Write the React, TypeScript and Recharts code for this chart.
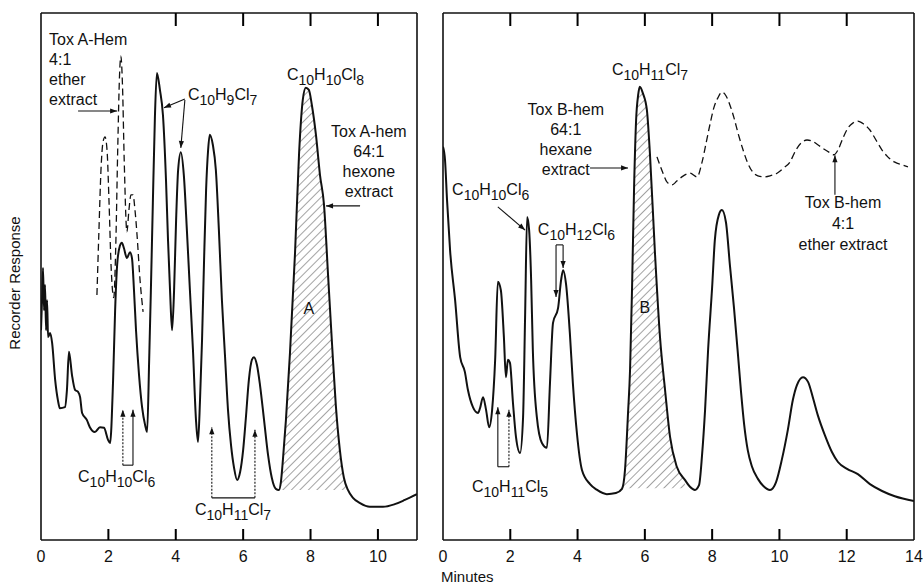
import React from 'react';
import { ComposedChart, Line, Area, XAxis, YAxis, ReferenceLine, ReferenceDot } from 'recharts';

type Pt = [number, number];

// minutes vs recorder response (0..100, 100 = top of the frame)
const toxASolid: Pt[] = [
  [0, 39.8], [0.03, 45.5], [0.06, 51.6], [0.09, 43.6], [0.12, 48.4], [0.15, 39.8], [0.18, 45.5], [0.21, 38.5],
  [0.27, 39.3], [0.33, 37.4], [0.42, 30.4], [0.5, 26.6], [0.56, 25.0], [0.71, 25.2], [0.77, 28.5], [0.83, 35.7],
  [0.92, 31.3], [1.01, 28.5], [1.1, 28.1], [1.16, 27.1], [1.22, 24.1], [1.36, 22.8], [1.45, 21.4], [1.6, 20.5],
  [1.75, 21.4], [1.87, 21.3], [1.99, 19.0], [2.05, 18.4], [2.14, 30.4], [2.2, 43.6], [2.26, 52.2], [2.34, 55.8],
  [2.4, 56.4], [2.46, 55.4], [2.55, 53.5], [2.64, 54.6], [2.7, 53.5], [2.76, 47.4], [2.82, 39.8], [2.91, 31.3],
  [3.0, 25.2], [3.09, 21.8], [3.15, 20.5], [3.21, 34.0], [3.26, 47.0], [3.32, 64.0], [3.38, 80.0], [3.44, 88.6],
  [3.53, 85.4], [3.62, 80.6], [3.71, 68.3], [3.77, 56.9], [3.83, 47.4], [3.89, 39.8], [3.95, 47.4], [4.01, 60.7],
  [4.07, 70.2], [4.15, 73.6], [4.24, 69.2], [4.33, 58.8], [4.42, 47.4], [4.51, 36.1], [4.6, 22.8], [4.66, 18.6],
  [4.72, 26.6], [4.78, 38.0], [4.84, 53.1], [4.9, 66.4], [4.96, 74.0], [5.01, 76.9], [5.1, 75.0], [5.19, 70.2],
  [5.28, 58.8], [5.37, 45.5], [5.46, 35.1], [5.55, 24.7], [5.64, 18.0], [5.73, 13.7], [5.82, 11.4], [5.91, 12.9],
  [6.0, 17.1], [6.08, 23.1], [6.17, 30.4], [6.26, 34.2], [6.32, 34.7], [6.41, 33.2], [6.5, 29.4], [6.62, 22.8],
  [6.74, 16.1], [6.85, 11.8], [6.97, 9.7], [7.06, 9.5], [7.12, 11.0], [7.18, 15.2], [7.27, 22.8], [7.39, 35.5],
  [7.54, 54.5], [7.66, 73.4], [7.77, 83.5], [7.86, 85.8], [7.95, 85.4], [8.04, 82.5], [8.16, 76.9], [8.28, 69.3],
  [8.4, 63.6], [8.52, 50.3], [8.64, 37.0], [8.75, 25.6], [8.87, 17.1], [8.99, 11.8], [9.11, 9.5], [9.26, 8.0],
  [9.47, 7.0], [9.76, 6.3], [10.15, 6.3], [10.5, 6.8], [10.8, 7.6], [11.16, 8.7],
];

const toxAEther: Pt[] = [
  [1.66, 46.5], [1.72, 58.8], [1.78, 70.2], [1.84, 75.5], [1.9, 76.5], [1.96, 74.0], [2.02, 64.0], [2.08, 52.0],
  [2.16, 46.0], [2.22, 56.0], [2.28, 75.0], [2.33, 88.0], [2.37, 91.8], [2.42, 86.0], [2.47, 72.0], [2.55, 58.5],
  [2.61, 62.6], [2.67, 65.5], [2.73, 65.5], [2.79, 62.6], [2.85, 57.9], [2.94, 49.3], [3.03, 43.3],
];

const toxAHatch = { from: 7.06, to: 9.11, base: 9.5 };

const toxBSolid: Pt[] = [
  [0, 74.6], [0.06, 72.1], [0.12, 64.5], [0.21, 55.0], [0.36, 45.5], [0.51, 34.7], [0.65, 31.9], [0.74, 28.5],
  [0.89, 25.2], [1.04, 24.1], [1.1, 25.0], [1.19, 27.1], [1.28, 24.7], [1.37, 21.4], [1.46, 24.7], [1.55, 34.2],
  [1.63, 49.0], [1.72, 47.4], [1.81, 38.5], [1.87, 30.9], [1.93, 34.2], [1.99, 33.6], [2.08, 26.0], [2.17, 19.5],
  [2.29, 16.5], [2.38, 23.3], [2.44, 42.3], [2.5, 61.3], [2.56, 58.8], [2.62, 49.3], [2.67, 36.1], [2.79, 23.3],
  [2.94, 18.4], [3.09, 17.5], [3.18, 29.8], [3.27, 41.2], [3.42, 44.0], [3.51, 49.3], [3.57, 51.2], [3.66, 48.4],
  [3.77, 39.3], [3.86, 29.8], [3.98, 20.3], [4.13, 13.3], [4.37, 10.6], [4.58, 9.5], [4.87, 8.7], [5.14, 8.9],
  [5.32, 9.7], [5.41, 13.3], [5.5, 24.1], [5.56, 32.3], [5.62, 48.0], [5.68, 67.0], [5.74, 79.7], [5.8, 84.4],
  [5.85, 86.0], [5.94, 84.8], [6.06, 81.6], [6.15, 73.4], [6.3, 54.5], [6.45, 38.5], [6.6, 28.5], [6.75, 19.5],
  [6.95, 13.9], [7.19, 11.4], [7.34, 10.1], [7.49, 9.5], [7.61, 10.4], [7.7, 16.1], [7.79, 24.7], [7.88, 36.1],
  [8.0, 48.0], [8.08, 56.9], [8.2, 61.7], [8.29, 62.6], [8.41, 60.3], [8.53, 52.0], [8.65, 44.0], [8.77, 35.0],
  [8.86, 28.0], [8.95, 22.0], [9.06, 17.0], [9.18, 14.0], [9.36, 11.6], [9.53, 10.2], [9.72, 9.5], [9.9, 11.0],
  [10.07, 15.2], [10.25, 20.9], [10.4, 26.6], [10.52, 29.4], [10.7, 30.9], [10.85, 30.0], [11.0, 26.9],
  [11.14, 23.7], [11.35, 19.9], [11.56, 16.7], [11.74, 14.8], [12.01, 13.5], [12.33, 12.5], [12.69, 10.6],
  [13.05, 9.3], [13.43, 8.3], [14.0, 7.4],
];

const toxBEther: Pt[] = [
  [6.36, 72.7], [6.54, 69.6], [6.66, 67.9], [6.81, 67.4], [6.95, 68.1], [7.1, 68.9], [7.34, 69.6], [7.55, 68.9],
  [7.7, 71.7], [7.82, 75.3], [7.93, 78.7], [8.05, 82.0], [8.17, 83.9], [8.29, 85.0], [8.41, 84.3], [8.53, 82.5],
  [8.65, 80.1], [8.77, 77.2], [8.92, 74.0], [9.06, 71.5], [9.21, 69.8], [9.36, 69.1], [9.54, 68.9], [9.72, 69.1],
  [9.93, 69.6], [10.13, 70.6], [10.31, 71.7], [10.49, 74.0], [10.64, 75.3], [10.82, 75.9], [10.97, 75.7],
  [11.14, 75.0], [11.32, 74.2], [11.47, 73.6], [11.62, 73.1], [11.74, 74.0], [11.89, 76.3], [12.04, 78.2],
  [12.18, 79.1], [12.33, 79.5], [12.51, 78.9], [12.69, 77.8], [12.87, 75.9], [13.05, 74.0], [13.22, 72.7],
  [13.43, 71.7], [13.64, 71.2], [13.82, 70.8],
];

const toxBHatch = { from: 5.32, to: 7.2, base: 9.8 };

const toxATicks = [0, 2, 4, 6, 8, 10];
const toxATopTicks = [4, 6, 8, 10];
const toxBTicks = [0, 2, 4, 6, 8, 10, 12, 14];
const toxBTopTicks = [2, 4, 6, 8, 10, 12];

type Note = { t: number; r: number; lines?: string[]; formula?: string; anchor?: 'start' | 'middle'; gap?: number };
type Seg = { from: Pt; to: Pt; head?: boolean; dotted?: boolean };

const toxANotes: Note[] = [
  { t: 0.24, r: 93.9, lines: ['Tox A-Hem', '4:1', 'ether', 'extract'] },
  { t: 4.36, r: 83.5, formula: 'C10H9Cl7' },
  { t: 7.3, r: 87.3, formula: 'C10H10Cl8' },
  { t: 9.73, r: 76.5, lines: ['Tox A-hem', '64:1', 'hexone', 'extract'], anchor: 'middle' },
  { t: 7.95, r: 42.9, lines: ['A'], anchor: 'middle' },
  { t: 1.1, r: 11.0, formula: 'C10H10Cl6' },
  { t: 4.57, r: 4.7, formula: 'C10H11Cl7' },
];

const toxASegs: Seg[] = [
  { from: [1.1, 81.4], to: [2.26, 81.4], head: true },
  { from: [4.27, 83.7], to: [3.65, 82.0], head: true },
  { from: [4.27, 83.5], to: [4.15, 74.4], head: true },
  { from: [9.47, 63.4], to: [8.46, 63.4], head: true },
  { from: [2.43, 14.2], to: [2.43, 24.7], head: true, dotted: true },
  { from: [2.73, 14.2], to: [2.73, 24.7], head: true },
  { from: [2.43, 14.2], to: [2.73, 14.2] },
  { from: [5.07, 8.0], to: [5.07, 21.4], head: true, dotted: true },
  { from: [6.35, 8.0], to: [6.35, 20.9], head: true, dotted: true },
  { from: [5.07, 8.0], to: [6.35, 8.0] },
];

const toxBNotes: Note[] = [
  { t: 5.02, r: 88.2, formula: 'C10H11Cl7' },
  { t: 3.65, r: 80.6, lines: ['Tox B-hem', '64:1', 'hexane', 'extract'], anchor: 'middle' },
  { t: 0.27, r: 65.5, formula: 'C10H10Cl6' },
  { t: 2.82, r: 57.9, formula: 'C10H12Cl6' },
  { t: 11.89, r: 63.0, lines: ['Tox B-hem', '4:1', 'ether extract'], anchor: 'middle', gap: 21 },
  { t: 6.0, r: 43.1, lines: ['B'], anchor: 'middle' },
  { t: 0.86, r: 9.1, formula: 'C10H11Cl5' },
];

const toxBSegs: Seg[] = [
  { from: [4.37, 70.6], to: [5.5, 70.6], head: true },
  { from: [1.63, 63.2], to: [2.44, 58.8], head: true },
  { from: [3.36, 56.0], to: [3.57, 56.0] },
  { from: [3.36, 56.0], to: [3.36, 46.1], head: true },
  { from: [3.57, 56.0], to: [3.57, 51.6], head: true },
  { from: [11.65, 65.5], to: [11.65, 73.0], head: true },
  { from: [1.63, 13.9], to: [1.63, 25.2], head: true },
  { from: [1.96, 13.9], to: [1.96, 24.7], head: true, dotted: true },
  { from: [1.63, 13.9], to: [1.96, 13.9] },
];

const INK = '#111';
const FONT = '"Liberation Sans", Arial, sans-serif';

// frame geometry shared by the charts and the tick overlay
const FRAME_TOP = 13;
const FRAME_BOTTOM = 540;
const PANEL_A = { x0: 41, x1: 417, maxT: 11.16 };
const PANEL_B = { x0: 443, x1: 914, maxT: 14 };

function buildRows(solid: Pt[], ether: Pt[], hatch: { from: number; to: number; base: number }) {
  const map = new Map<number, any>();
  const row = (t: number) => {
    if (!map.has(t)) map.set(t, { t });
    return map.get(t);
  };
  solid.forEach(([t, r]) => {
    const o = row(t);
    o.solid = r;
    if (t >= hatch.from && t <= hatch.to) o.hatch = [hatch.base, Math.max(r, hatch.base)];
  });
  ether.forEach(([t, r]) => {
    row(t).ether = r;
  });
  return [...map.values()].sort((a, b) => a.t - b.t);
}

const arrowShape = (seg: Seg) => (p: any) => {
  const { x1, y1, x2, y2 } = p;
  const a = Math.atan2(y2 - y1, x2 - x1);
  const L = 7;
  const W = 2.6;
  const bx = x2 - L * Math.cos(a);
  const by = y2 - L * Math.sin(a);
  const pts = `${x2},${y2} ${bx - W * Math.sin(a)},${by + W * Math.cos(a)} ${bx + W * Math.sin(a)},${by - W * Math.cos(a)}`;
  return (
    <g>
      <line x1={x1} y1={y1} x2={x2} y2={y2} stroke={INK} strokeWidth={1.1} strokeDasharray={seg.dotted ? '2 1.5' : undefined} />
      {seg.head && <polygon points={pts} fill={INK} />}
    </g>
  );
};

const noteShape = (n: Note) => (p: any) => {
  const { cx, cy } = p;
  if (n.formula) {
    const parts = n.formula.match(/[A-Za-z]+|\d+/g) ?? [];
    let down = false;
    return (
      <text x={cx} y={cy} fill={INK} fontSize={16} fontFamily={FONT} textAnchor="start">
        {parts.map((s, i) => {
          const sub = /\d/.test(s);
          const dy = sub ? (down ? 0 : 5) : down ? -5 : 0;
          down = sub;
          return (
            <tspan key={i} dy={dy} fontSize={sub ? 14 : 16}>
              {s}
            </tspan>
          );
        })}
      </text>
    );
  }
  const gap = n.gap ?? 20;
  return (
    <text x={cx} y={cy} fill={INK} fontSize={16} fontFamily={FONT} textAnchor={n.anchor ?? 'start'}>
      {(n.lines ?? []).map((l, i) => (
        <tspan key={i} x={cx} dy={i === 0 ? 0 : gap}>
          {l}
        </tspan>
      ))}
    </text>
  );
};

const bottomLabel = (p: any) => (
  <text x={p.x} y={p.y + 22} textAnchor="middle" fontSize={16} fontFamily={FONT} fill={INK}>
    {p.payload.value}
  </text>
);

interface PanelProps {
  width: number;
  margin: { top: number; right: number; bottom: number; left: number };
  maxT: number;
  ticks: number[];
  solid: Pt[];
  ether: Pt[];
  hatch: { from: number; to: number; base: number };
  notes: Note[];
  segs: Seg[];
  hatchId: string;
}

function Panel({ width, margin, maxT, ticks, solid, ether, hatch, notes, segs, hatchId }: PanelProps) {
  const rows = buildRows(solid, ether, hatch);
  const frame = { stroke: INK, strokeWidth: 1.6 };
  return (
    <ComposedChart width={width} height={587} data={rows} margin={margin}>
      <defs>
        <pattern id={hatchId} patternUnits="userSpaceOnUse" width={6} height={6} patternTransform="rotate(45)">
          <line x1={0} y1={0} x2={0} y2={6} stroke="#333" strokeWidth={0.9} />
        </pattern>
      </defs>
      <XAxis
        dataKey="t"
        type="number"
        domain={[0, maxT]}
        ticks={ticks}
        interval={0}
        height={47}
        tickSize={0}
        tickMargin={0}
        tickLine={false}
        axisLine={frame}
        tick={bottomLabel}
        allowDataOverflow
      />
      <XAxis
        xAxisId="top"
        orientation="top"
        dataKey="t"
        type="number"
        domain={[0, maxT]}
        height={1}
        tick={false}
        tickLine={false}
        axisLine={frame}
        allowDataOverflow
      />
      <YAxis domain={[0, 100]} width={1} tick={false} tickLine={false} axisLine={frame} allowDataOverflow />
      <YAxis
        yAxisId="right"
        orientation="right"
        domain={[0, 100]}
        width={1}
        tick={false}
        tickLine={false}
        axisLine={frame}
        allowDataOverflow
      />
      <Area
        dataKey="hatch"
        type="monotone"
        stroke="none"
        fill={`url(#${hatchId})`}
        fillOpacity={1}
        connectNulls
        dot={false}
        activeDot={false}
        isAnimationActive={false}
      />
      {/* invisible series so the top x-axis and right y-axis get bound and drawn */}
      <Line
        dataKey="solid"
        xAxisId="top"
        yAxisId="right"
        stroke="none"
        dot={false}
        activeDot={false}
        connectNulls
        legendType="none"
        isAnimationActive={false}
      />
      <Line
        dataKey="ether"
        type="monotone"
        stroke={INK}
        strokeWidth={1.3}
        strokeDasharray="7 4"
        dot={false}
        activeDot={false}
        connectNulls
        isAnimationActive={false}
      />
      <Line
        dataKey="solid"
        type="monotone"
        stroke={INK}
        strokeWidth={2}
        dot={false}
        activeDot={false}
        connectNulls
        isAnimationActive={false}
      />
      {segs.map((s, i) => (
        <ReferenceLine
          key={`s${i}`}
          segment={[{ x: s.from[0], y: s.from[1] }, { x: s.to[0], y: s.to[1] }]}
          shape={arrowShape(s)}
        />
      ))}
      {notes.map((n, i) => (
        <ReferenceDot key={`n${i}`} x={n.t} y={n.r} r={0} shape={noteShape(n)} />
      ))}
    </ComposedChart>
  );
}

// inward tick marks on the frames, placed with the same linear minute scale as the charts
function FrameTicks({ panel, bottom, top }: { panel: { x0: number; x1: number; maxT: number }; bottom: number[]; top: number[] }) {
  const sx = (t: number) => panel.x0 + (t / panel.maxT) * (panel.x1 - panel.x0);
  return (
    <g>
      {top.map((t) => (
        <rect key={`t${t}`} x={sx(t) - 1} y={FRAME_TOP} width={2} height={13} fill="#000" />
      ))}
      {bottom
        .filter((t) => t > 0 && t < panel.maxT)
        .map((t) => (
          <rect key={`b${t}`} x={sx(t) - 1} y={FRAME_BOTTOM - 11} width={2} height={11} fill="#000" />
        ))}
    </g>
  );
}

export default function App() {
  return (
    <div style={{ position: 'absolute', left: 0, top: 0, width: 923, height: 587, background: '#fff', fontFamily: FONT }}>
      <div style={{ position: 'absolute', left: 0, top: 0 }}>
        <Panel
          width={430}
          margin={{ top: FRAME_TOP - 1, right: 430 - PANEL_A.x1 - 1, bottom: 0, left: PANEL_A.x0 - 1 }}
          maxT={PANEL_A.maxT}
          ticks={toxATicks}
          solid={toxASolid}
          ether={toxAEther}
          hatch={toxAHatch}
          notes={toxANotes}
          segs={toxASegs}
          hatchId="hatchA"
        />
      </div>
      <div style={{ position: 'absolute', left: 430, top: 0 }}>
        <Panel
          width={493}
          margin={{ top: FRAME_TOP - 1, right: 923 - PANEL_B.x1 - 1, bottom: 0, left: PANEL_B.x0 - 430 - 1 }}
          maxT={PANEL_B.maxT}
          ticks={toxBTicks}
          solid={toxBSolid}
          ether={toxBEther}
          hatch={toxBHatch}
          notes={toxBNotes}
          segs={toxBSegs}
          hatchId="hatchB"
        />
      </div>
      <svg width={923} height={587} style={{ position: 'absolute', left: 0, top: 0, pointerEvents: 'none' }}>
        <FrameTicks panel={PANEL_A} bottom={toxATicks} top={toxATopTicks} />
        <FrameTicks panel={PANEL_B} bottom={toxBTicks} top={toxBTopTicks} />
        <text x={20} y={283} transform="rotate(-90 20 283)" textAnchor="middle" fontSize={15} fontFamily={FONT} fill={INK}>
          Recorder Response
        </text>
        <text x={441} y={582} fontSize={15} fontFamily={FONT} fill={INK}>
          Minutes
        </text>
      </svg>
    </div>
  );
}
